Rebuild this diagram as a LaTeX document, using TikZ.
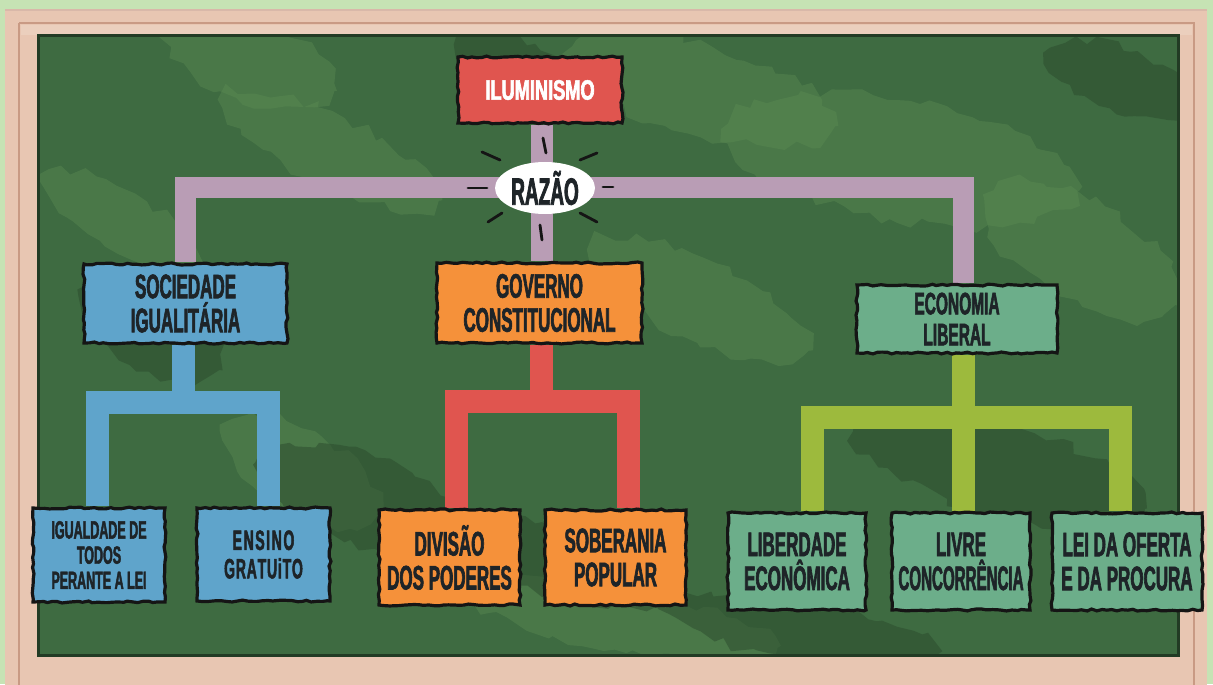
\documentclass[tikz,border=0pt]{standalone}
\usepackage{fontspec}
\setmainfont{Liberation Sans}
\newfontfamily\cond{Liberation Sans}[FakeStretch=0.5,FakeBold=1.8]
\usetikzlibrary{decorations.pathmorphing,shapes.geometric,calc}
\pgfdeclarelayer{bg}\pgfdeclarelayer{conn}\pgfsetlayers{bg,conn,main}
\definecolor{pagegreen}{HTML}{C6E3B4}
\definecolor{wood}{HTML}{E8C6B2}
\definecolor{wooddark}{HTML}{C99A84}
\definecolor{board}{HTML}{3E6B41}
\definecolor{boardlight}{HTML}{5A8A52}
\definecolor{boarddark}{HTML}{2B4A2D}
\definecolor{redc}{HTML}{E0554F}
\definecolor{mauve}{HTML}{B99DB5}
\definecolor{bluec}{HTML}{5FA4CB}
\definecolor{orangec}{HTML}{F5913A}
\definecolor{tealc}{HTML}{6CAE8A}
\definecolor{ygreen}{HTML}{9DBA3D}
\definecolor{ink}{HTML}{151515}
\definecolor{txt}{HTML}{1E2428}
\tikzset{
  box/.style={draw=ink, line width=1.6pt, decorate,
    decoration={random steps,segment length=2.5pt,amplitude=0.5pt},
    inner sep=0pt, align=center, text=txt},
  bigtxt/.style={font={\cond\bfseries\fontsize{17}{17}\selectfont}},
  midtxt/.style={font={\cond\bfseries\fontsize{17}{17}\selectfont}},
  conn/.style={line width=11.5pt, line join=miter},
  ray/.style={ink, line width=1.4pt, line cap=round},
  blob/.style={fill=boardlight, opacity=0.45, decorate,
    decoration={random steps,segment length=6pt,amplitude=3pt}},
  dblob/.style={fill=boarddark, opacity=0.5, decorate,
    decoration={random steps,segment length=6pt,amplitude=3pt}}
}
\begin{document}
\begin{tikzpicture}[x=0.5pt,y=-0.5pt]
\pgfmathsetseed{11}
\useasboundingbox (0,0) rectangle (1213,684);
\begin{pgfonlayer}{bg}
  \fill[pagegreen] (0,0) rectangle (1213,684);
  \fill[wood] (5,10) rectangle (1207,690);
  \draw[wooddark!70, line width=0.8pt] (5,10) -- (1207,10);
  \draw[wooddark, line width=1.2pt] (19,23) -- (1194,23) -- (1194,690);
  \draw[wooddark, line width=1.2pt] (19,23) -- (19,690);
  \fill[wood!85!white] (21,25) rectangle (1192,35);
  \fill[board] (38,36) rectangle (1178,655);
  \begin{scope}
    \clip (38,36) rectangle (1178,655);
    \fill[blob] (250,60) ellipse [x radius=90, y radius=40, rotate=-20];
    \fill[blob] (330,150) ellipse [x radius=120, y radius=35, rotate=-25];
    \fill[blob] (700,90) ellipse [x radius=140, y radius=45, rotate=-15];
    \fill[blob] (900,160) ellipse [x radius=180, y radius=60, rotate=-10];
    \fill[blob] (1080,250) ellipse [x radius=110, y radius=50, rotate=-30];
    \fill[blob] (300,470) ellipse [x radius=90, y radius=40, rotate=-30];
    \fill[blob] (700,300) ellipse [x radius=120, y radius=40, rotate=-25];
    \fill[blob] (620,620) ellipse [x radius=160, y radius=30, rotate=-10];
    \fill[blob] (120,220) ellipse [x radius=90, y radius=30, rotate=-30];
    \fill[dblob] (520,70) ellipse [x radius=70, y radius=30, rotate=-30];
    \fill[dblob] (360,500) ellipse [x radius=110, y radius=45, rotate=-20];
    \fill[dblob] (1000,470) ellipse [x radius=150, y radius=45, rotate=-15];
    \fill[dblob] (150,330) ellipse [x radius=80, y radius=40, rotate=-30];
    \fill[dblob] (800,630) ellipse [x radius=140, y radius=30, rotate=-10];
    \fill[dblob] (1120,80) ellipse [x radius=80, y radius=30, rotate=-20];
    \fill[dblob] (560,560) ellipse [x radius=120, y radius=35, rotate=-15];
  \end{scope}
  \draw[boarddark!80!black, line width=1.5pt] (38,36) rectangle (1178,655);
\end{pgfonlayer}

% top level
\node[box, fill=redc, minimum width=82pt, minimum height=33pt, text=white,
  font={\cond\bfseries\fontsize{14}{14}\selectfont}] (ilu) at (540,90)
  {\scalebox{1.3}[1]{ILUMINISMO}};
\node[ellipse, fill=white, minimum width=50pt, minimum height=26pt, inner sep=0pt,
  text=txt, font={\cond\bfseries\fontsize{19}{19}\selectfont}] (raz) at (545,188) {RAZÃO};

% second level
\node[box, fill=bluec, bigtxt, minimum width=101.5pt, minimum height=39.5pt] (soc) at (185.5,303.5) {SOCIEDADE\\IGUALITÁRIA};
\node[box, fill=orangec, bigtxt, minimum width=102.5pt, minimum height=40pt] (gov) at (539.5,303) {GOVERNO\\CONSTITUCIONAL};
\node[box, fill=tealc, minimum width=100pt, minimum height=34pt,
  font={\cond\bfseries\fontsize{15.5}{15.5}\selectfont}] (eco) at (957,319) {ECONOMIA\\LIBERAL};

% third level
\node[box, fill=bluec, minimum width=66pt, minimum height=47pt,
  font={\cond\bfseries\fontsize{12.5}{12.6}\selectfont}] (igu) at (99,555)
  {IGUALDADE DE\\TODOS\\PERANTE A LEI};
\node[box, fill=bluec, minimum width=66.5pt, minimum height=46.5pt,
  font={\cond\bfseries\fontsize{14}{14.2}\selectfont}] (ens) at (263.5,554.5)
  {E\kern0.8pt N\kern0.8pt S\kern0.8pt I\kern0.8pt N\kern0.8pt O\\G\kern0.4pt R\kern0.4pt A\kern0.4pt T\kern0.4pt U\kern0.4pt i\kern0.4pt T\kern0.4pt O};
\node[box, fill=orangec, midtxt, minimum width=70.5pt, minimum height=47.5pt] (div) at (449.5,557.5) {DIVISÃO\\DOS PODERES};
\node[box, fill=orangec, midtxt, minimum width=70.5pt, minimum height=47.5pt] (sob) at (615.5,557.5) {SOBERANIA\\POPULAR};
\node[box, fill=tealc, midtxt, minimum width=69pt, minimum height=48.5pt] (lib) at (797,561.5) {LIBERDADE\\ECONÔMICA};
\node[box, fill=tealc, midtxt, minimum width=69pt, minimum height=48.5pt] (liv) at (961,561.5) {LIVRE\\\scalebox{0.89}[1]{CONCORRÊNCIA}};
\node[box, fill=tealc, midtxt, minimum width=75pt, minimum height=48.5pt] (lei) at (1127,561.5) {LEI DA OFERTA\\E DA PROCURA};

% connectors
\begin{pgfonlayer}{conn}
  % mauve
  \draw[conn, mauve, line width=11pt] ($(ilu.south)+(2,0)$) -- ($(gov.north)+(2.5,0)$);
  \draw[conn, mauve, line width=10.5pt] (soc.north) -- (soc.north |- raz.center)
     -- ($(eco.north |- raz.center)+(6.5,0)$) -- ($(eco.north)+(6.5,0)$);
  % blue
  \coordinate (bj) at (183,402.5);
  \draw[conn, bluec] (soc.south -| bj) -- (bj);
  \draw[conn, bluec] ($(igu.north)+(-2,0)$) -- ($(igu.north |- bj)+(-2,0)$)
     -- ($(ens.north |- bj)+(4.5,0)$) -- ($(ens.north)+(4.5,0)$);
  % red
  \coordinate (rj) at (541.5,401.5);
  \draw[conn, redc] (gov.south -| rj) -- (rj);
  \draw[conn, redc] ($(div.north)+(6.5,0)$) -- ($(div.north |- rj)+(6.5,0)$)
     -- ($(sob.north |- rj)+(12.5,0)$) -- ($(sob.north)+(12.5,0)$);
  % green
  \coordinate (gj) at (963,417.5);
  \draw[conn, ygreen] (eco.south -| gj) -- (gj);
  \draw[conn, ygreen] ($(lib.north)+(15,0)$) -- ($(lib.north |- gj)+(15,0)$)
     -- ($(lei.north |- gj)+(-7,0)$) -- ($(lei.north)+(-7,0)$);
  \draw[conn, ygreen] (gj) -- ($(liv.north)+(2,0)$);
\end{pgfonlayer}

% rays around RAZAO
\draw[ray] ($(raz.center)+(-63,-36)$) -- ($(raz.center)+(-45,-28)$);
\draw[ray] ($(raz.center)+(35,-28)$) -- ($(raz.center)+(52,-35)$);
\draw[ray] ($(raz.center)+(-77,0)$) -- ($(raz.center)+(-58,0)$);
\draw[ray] ($(raz.center)+(58,-1)$) -- ($(raz.center)+(68,-1)$);
\draw[ray] ($(raz.center)+(-57,34)$) -- ($(raz.center)+(-43,25)$);
\draw[ray] ($(raz.center)+(35,25)$) -- ($(raz.center)+(52,34)$);
\draw[ray] ($(raz.center)+(-2,-50)$) -- ($(raz.center)+(1,-35)$);
\draw[ray] ($(raz.center)+(-5,37)$) -- ($(raz.center)+(-3,52)$);
\end{tikzpicture}
\end{document}
